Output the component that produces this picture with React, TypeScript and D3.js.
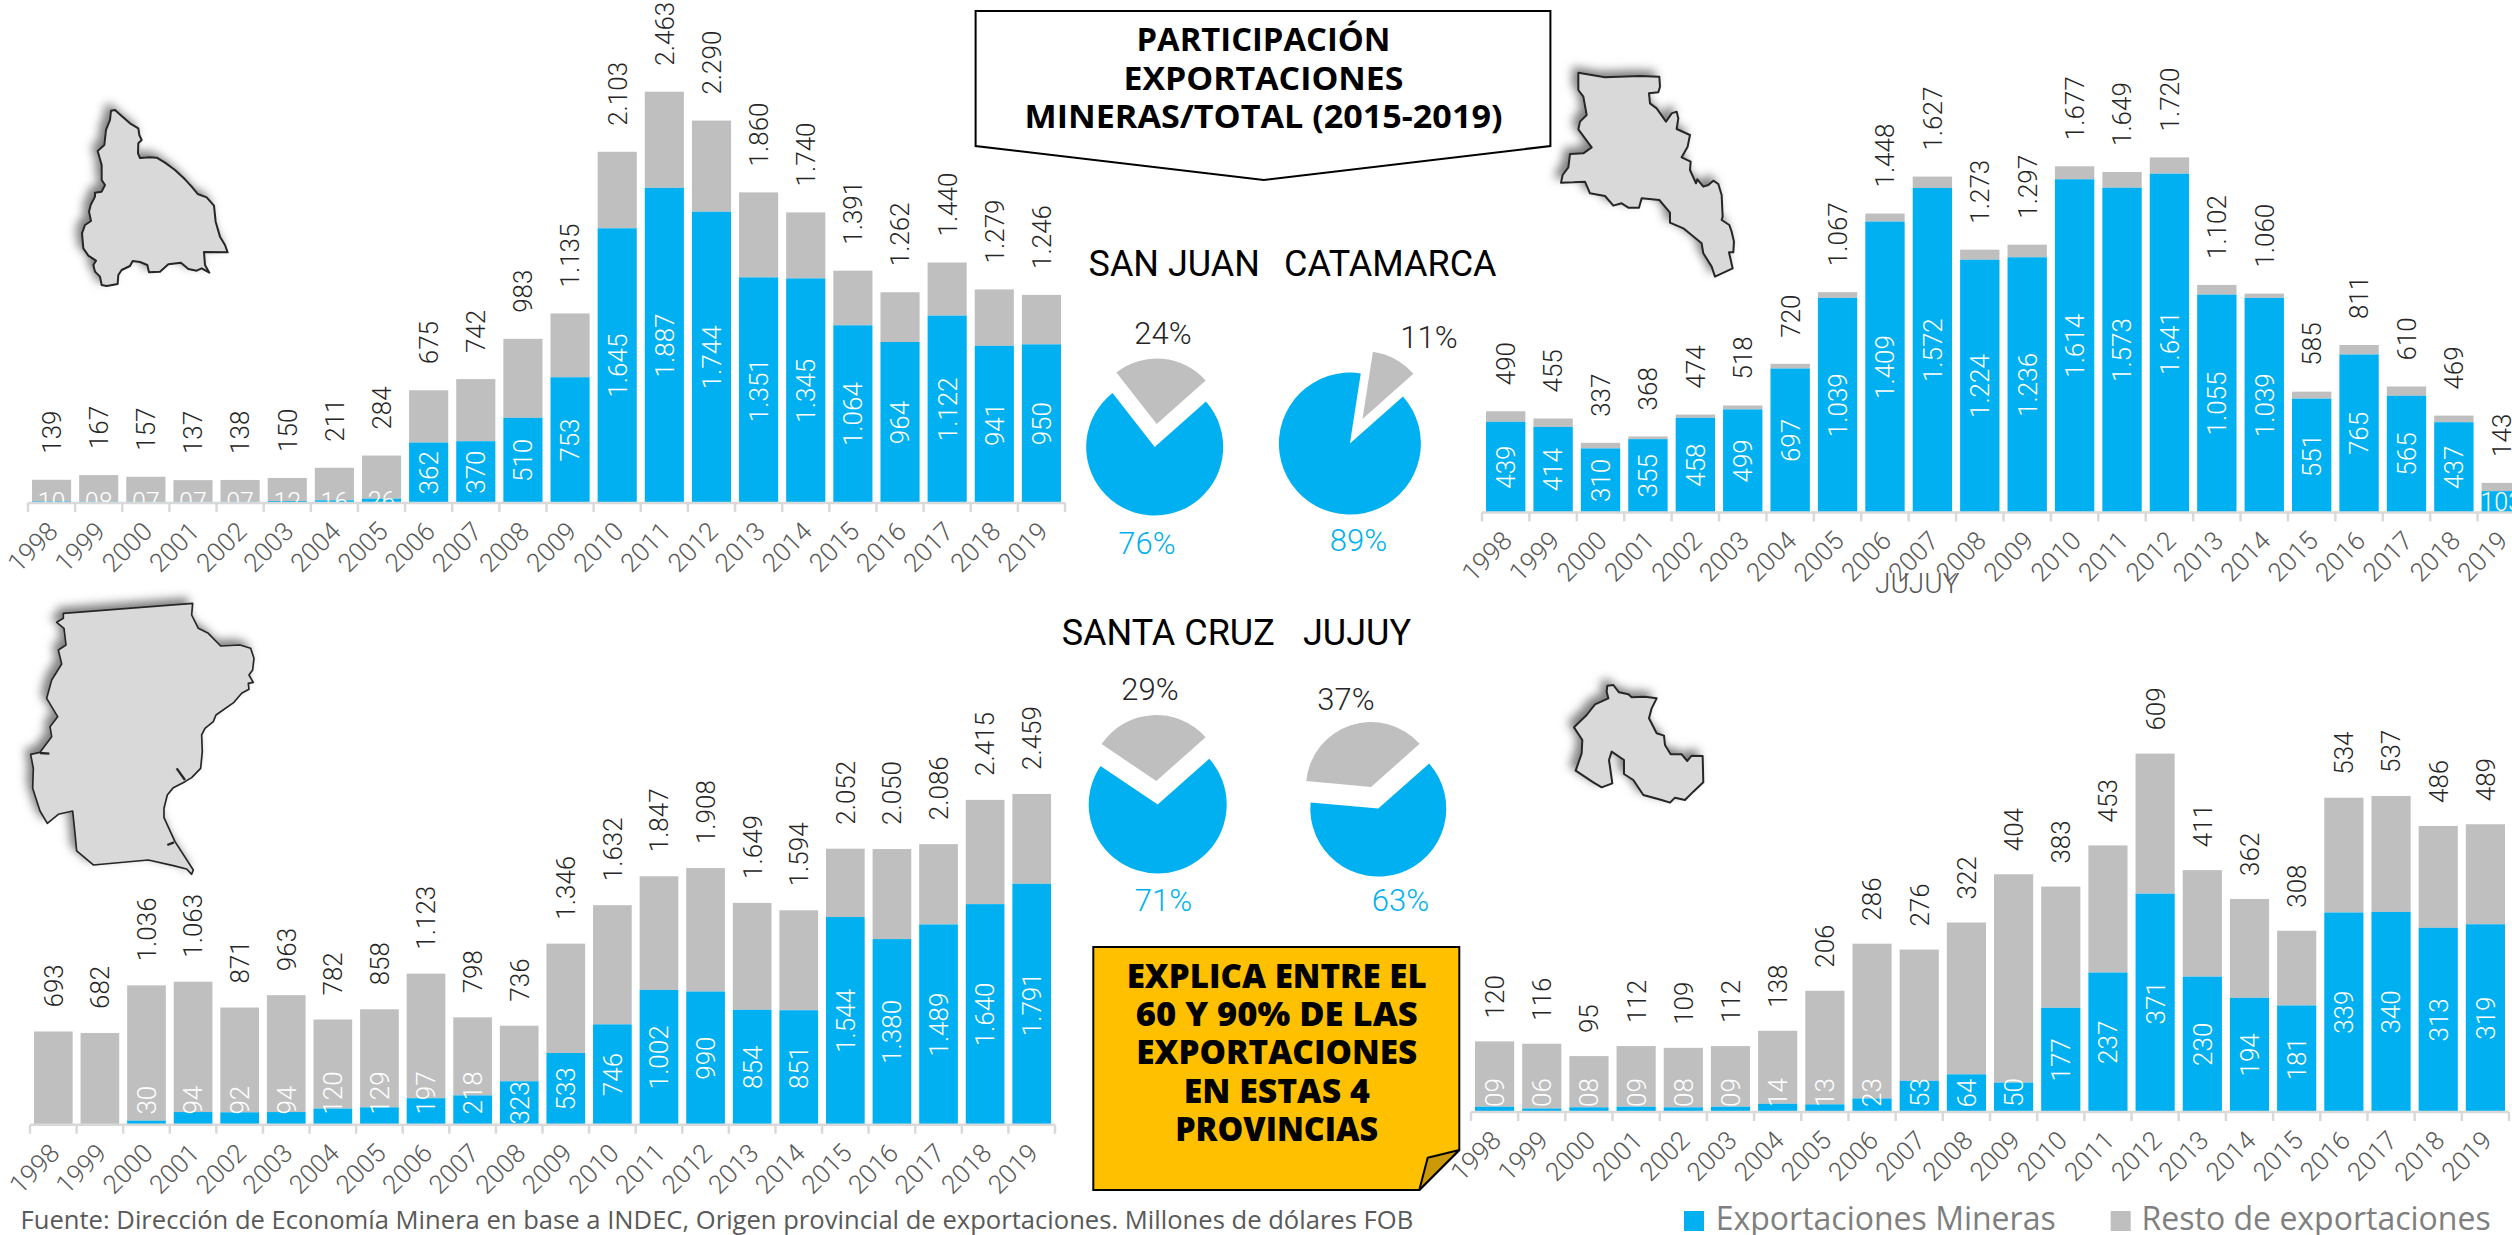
import React from "react";
import * as d3 from "d3";

const years = d3.range(1998, 2020).map(String);

// totales por provincia (millones de dolares FOB)
const sanJuanTotal = [139, 167, 157, 137, 138, 150, 211, 284, 675, 742, 983, 1135, 2103, 2463, 2290, 1860, 1740, 1391, 1262, 1440, 1279, 1246];
const sanJuanMinera = [10, 8, 7, 7, 7, 12, 16, 26, 362, 370, 510, 753, 1645, 1887, 1744, 1351, 1345, 1064, 964, 1122, 941, 950];
const catamarcaTotal = [490, 455, 337, 368, 474, 518, 720, 1067, 1448, 1627, 1273, 1297, 1677, 1649, 1720, 1102, 1060, 585, 811, 610, 469, 143];
const catamarcaMinera = [439, 414, 310, 355, 458, 499, 697, 1039, 1409, 1572, 1224, 1236, 1614, 1573, 1641, 1055, 1039, 551, 765, 565, 437, 103];
const santaCruzTotal = [693, 682, 1036, 1063, 871, 963, 782, 858, 1123, 798, 736, 1346, 1632, 1847, 1908, 1649, 1594, 2052, 2050, 2086, 2415, 2459];
const santaCruzMinera = [0, 0, 30, 94, 92, 94, 120, 129, 197, 218, 323, 533, 746, 1002, 990, 854, 851, 1544, 1380, 1489, 1640, 1791];
const jujuyTotal = [120, 116, 95, 112, 109, 112, 138, 206, 286, 276, 322, 404, 383, 453, 609, 411, 362, 308, 534, 537, 486, 489];
const jujuyMinera = [9, 6, 8, 9, 8, 9, 14, 13, 23, 53, 64, 50, 177, 237, 371, 230, 194, 181, 339, 340, 313, 319];

const BLUE = "#00b0f0";
const GRAY = "#bfbfbf";
const LIGHT = "Roboto, sans-serif";
const SANS = "'Open Sans', sans-serif";

const esFormat = d3.formatLocale({ decimal: ",", thousands: ".", grouping: [3], currency: ["", ""] }).format(",d");
const fmt = (v: number) => (v < 10 ? "0" + v : esFormat(v));

// contornos de las provincias, en coordenadas de recorte x3
const sanJuanShape = [[183,62],[195,60],[215,78],[240,100],[265,115],[268,135],[275,150],[265,160],[264,190],[270,204],[300,202],[320,203],[345,218],[375,240],[405,268],[425,290],[443,312],[470,322],[492,347],[497,395],[510,440],[525,465],[533,487],[462,486],[465,525],[478,548],[455,535],[440,542],[415,537],[393,518],[355,523],[330,545],[297,547],[292,525],[270,516],[248,513],[240,528],[215,540],[205,555],[203,582],[170,588],[155,585],[150,560],[135,545],[130,525],[138,512],[115,497],[100,475],[96,430],[105,405],[123,393],[117,365],[122,345],[135,320],[135,308],[155,305],[165,285],[155,270],[155,225],[143,183],[163,165],[168,120],[180,90]];
const catamarcaShape = [[115,38],[195,52],[300,48],[358,50],[360,80],[355,97],[327,100],[330,130],[350,145],[378,185],[395,160],[410,155],[415,175],[410,207],[450,225],[443,260],[425,292],[452,305],[450,330],[468,370],[472,358],[490,380],[505,375],[520,362],[535,372],[545,405],[548,470],[545,480],[568,495],[575,515],[582,545],[580,577],[567,577],[578,625],[525,650],[515,620],[490,580],[485,550],[430,505],[390,488],[390,458],[358,420],[305,415],[297,443],[265,443],[245,430],[220,437],[195,408],[150,400],[135,365],[100,367],[63,368],[68,345],[85,322],[90,282],[130,280],[155,262],[115,208],[120,185],[140,165],[130,110],[115,90]];
const santaCruzShape = [[160,55],[548,25],[545,60],[565,100],[595,115],[632,153],[690,150],[722,160],[732,190],[728,225],[717,240],[730,262],[715,265],[717,283],[695,295],[672,322],[618,360],[610,380],[585,400],[575,420],[577,470],[572,520],[545,548],[525,560],[490,578],[472,600],[462,640],[462,668],[495,740],[550,825],[545,838],[530,822],[490,812],[415,795],[250,810],[200,768],[195,715],[188,648],[145,658],[112,685],[90,648],[68,580],[70,520],[62,478],[90,472],[125,425],[120,395],[143,365],[110,310],[125,255],[155,207],[145,165],[168,150],[162,100],[140,82],[160,70]];
const jujuyShape = [[172,62],[190,60],[207,82],[235,88],[245,97],[285,95],[320,100],[305,130],[297,160],[320,205],[342,212],[345,240],[362,268],[395,268],[412,288],[425,272],[458,273],[460,352],[430,380],[405,405],[375,398],[360,413],[335,405],[280,390],[250,345],[222,327],[222,285],[185,260],[177,285],[187,355],[155,367],[130,352],[77,317],[95,265],[97,225],[72,187],[110,150],[135,118],[175,100],[170,80]];

const outline = d3.line().curve(d3.curveLinearClosed);

function Province({ shape, x, y, lw = 6, marks = [] }: any) {
  return (
    <g transform={`translate(${x},${y})`} filter="url(#mapShadow)">
      <g transform="scale(0.3333)">
        <path d={outline(shape) as string} fill="#d9d9d9" stroke="#262626" strokeWidth={lw} strokeLinejoin="round" />
        {marks.map((m: any, i: number) => (
          <line key={i} x1={m[0]} y1={m[1]} x2={m[2]} y2={m[3]} stroke="#262626" strokeWidth={lw + 2} />
        ))}
      </g>
    </g>
  );
}

function Bars({ id, total, minera, x0, x1, base, pxPerUnit, gap, flatSmall = false, minStart = 0 }: any) {
  const x = d3.scaleBand().domain(years).range([x0, x1]).paddingInner(0.17).paddingOuter(0.085);
  const y = d3.scaleLinear().domain([0, 1]).range([base, base - pxPerUnit]);
  const step = x.step();

  return (
    <g>
      <defs>
        <clipPath id={id}>
          <rect x={x0} y={0} width={x1 - x0 + 50} height={base - 1} />
        </clipPath>
      </defs>
      {years.map((yr, i) => (
        <g key={yr}>
          <rect x={x(yr)} y={y(total[i])} width={x.bandwidth()} height={y(minera[i]) - y(total[i])} fill={GRAY} />
          <rect x={x(yr)} y={y(minera[i])} width={x.bandwidth()} height={base - y(minera[i])} fill={BLUE} />
        </g>
      ))}
      {/* eje */}
      <line x1={x0} x2={x1} y1={base} y2={base} stroke="#d9d9d9" strokeWidth={2.5} />
      {d3.range(23).map((i) => (
        <line key={i} x1={x0 + i * step} x2={x0 + i * step} y1={base} y2={base + 9} stroke="#d9d9d9" strokeWidth={2.5} />
      ))}
      {years.map((yr) => (
        <text
          key={yr}
          transform={`translate(${(x(yr) as number) + x.bandwidth() / 2 + 8},${base + 30}) rotate(-45)`}
          textAnchor="end"
          fontFamily={LIGHT}
          fontWeight={300}
          fontSize={26}
          fill="#595959"
        >
          {yr}
        </text>
      ))}
      {years.map((yr, i) => (
        <text
          key={yr}
          transform={`translate(${(x(yr) as number) + x.bandwidth() / 2},${y(total[i]) - gap}) rotate(-90)`}
          dy="0.36em"
          fontFamily={LIGHT}
          fontWeight={300}
          fontSize={26}
          fill="#262626"
        >
          {esFormat(total[i])}
        </text>
      ))}
      <g clipPath={`url(#${id})`}>
        {years.map((yr, i) => {
          const v = minera[i];
          if (!v) return null;
          const cx = (x(yr) as number) + x.bandwidth() / 2;
          const h = base - y(v);
          const label = fmt(v);
          if (flatSmall && h < 25) {
            return (
              <text key={yr} x={cx} y={base - h / 2} dy="0.36em" textAnchor="middle" fontFamily={LIGHT} fontWeight={300} fontSize={25} fill="#fff">
                {label}
              </text>
            );
          }
          // las etiquetas chicas se salen de la barra hacia arriba
          const len = label.length * 14.5;
          const mid = h < 35 && minStart ? minStart + len / 2 : h / 2;
          return (
            <text
              key={yr}
              transform={`translate(${cx},${base - mid}) rotate(-90)`}
              dy="0.36em"
              textAnchor="middle"
              fontFamily={LIGHT}
              fontWeight={300}
              fontSize={26}
              fill="#fff"
            >
              {label}
            </text>
          );
        })}
      </g>
    </g>
  );
}

function Pie({ share, blueAt, grayAt, r }: any) {
  const start = (48.4 * Math.PI) / 180;
  const arcs = d3
    .pie<number>()
    .sort(null)
    .startAngle(start)
    .endAngle(start + 2 * Math.PI)([share, 100 - share]);
  const arc = d3.arc<any>().innerRadius(0);
  return (
    <g>
      <path transform={`translate(${blueAt})`} d={arc.outerRadius(r)(arcs[0]) as string} fill={BLUE} />
      <path transform={`translate(${grayAt})`} d={arc.outerRadius(r - 3)(arcs[1]) as string} fill={GRAY} />
    </g>
  );
}

const Pct = ({ x, y, blue, children }: any) => (
  <text x={x} y={y} textAnchor="middle" fontFamily={LIGHT} fontWeight={300} fontSize={31} fill={blue ? BLUE : "#262626"}>
    {children}
  </text>
);

const Heading = ({ x, y, children }: any) => (
  <text x={x} y={y} fontFamily={LIGHT} fontWeight={400} fontSize={36} fill="#000">
    {children}
  </text>
);

const titleLines = ["PARTICIPACIÓN", "EXPORTACIONES", "MINERAS/TOTAL (2015-2019)"];
const titleWidths = [254, 280, 478];
const calloutLines = ["EXPLICA ENTRE EL", "60 Y 90% DE LAS", "EXPORTACIONES", "EN ESTAS 4", "PROVINCIAS"];
const calloutWidths = [300, 282, 281, 186, 203];

export default function App() {
  return (
    <svg width={2512} height={1235} style={{ position: "absolute", left: 0, top: 0, display: "block", background: "#fff" }}>
      <defs>
        <filter id="mapShadow" x="-20%" y="-20%" width="140%" height="140%">
          <feDropShadow dx={-5} dy={-5} stdDeviation={5} floodColor="#000" floodOpacity={0.5} />
        </filter>
      </defs>

      <Bars id="clipSJ" total={sanJuanTotal} minera={sanJuanMinera} x0={28} x1={1065} base={503} pxPerUnit={0.167} gap={26} flatSmall />
      <Bars id="clipCA" total={catamarcaTotal} minera={catamarcaMinera} x0={1482} x1={2525} base={512.4} pxPerUnit={0.2064} gap={26} flatSmall />
      <Bars id="clipSC" total={santaCruzTotal} minera={santaCruzMinera} x0={30} x1={1055} base={1124.7} pxPerUnit={0.1345} gap={24} minStart={10} />
      <Bars id="clipJU" total={jujuyTotal} minera={jujuyMinera} x0={1471} x1={2509} base={1112} pxPerUnit={0.5885} gap={23} minStart={5} />

      <Province shape={sanJuanShape} x={50} y={90} />
      <Province shape={catamarcaShape} x={1540} y={60} />
      <Province
        shape={santaCruzShape}
        x={10}
        y={595}
        lw={5}
        marks={[[500, 520, 525, 555], [472, 750, 492, 742], [90, 474, 118, 476]]}
      />
      <Province shape={jujuyShape} x={1550} y={665} />

      {/* recuadro del titulo */}
      <path d="M975.6,11 H1550.4 V146 L1263.8,180 L975.6,146 Z" fill="#fff" stroke="#000" strokeWidth={2} />
      {titleLines.map((t, i) => (
        <text
          key={t}
          x={1263.5}
          y={51.4 + i * 38.2}
          textAnchor="middle"
          textLength={titleWidths[i]}
          lengthAdjust="spacingAndGlyphs"
          fontFamily={SANS}
          fontWeight={700}
          fontSize={33}
          fill="#000"
        >
          {t}
        </text>
      ))}

      <Heading x={1088.5} y={276}>SAN JUAN</Heading>
      <Heading x={1284} y={276}>CATAMARCA</Heading>
      <Heading x={1061.7} y={645.4}>SANTA CRUZ</Heading>
      <Heading x={1303} y={645.4}>JUJUY</Heading>

      <Pie share={76} blueAt="1154.7,447" grayAt="1156.7,424" r={68.5} />
      <Pie share={89} blueAt="1349.9,443.6" grayAt="1362.5,419" r={71} />
      <Pie share={71} blueAt="1157.7,804.5" grayAt="1156.3,781" r={69} />
      <Pie share={63} blueAt="1378.3,808.6" grayAt="1371,787" r={68} />

      <Pct x={1163} y={344}>24%</Pct>
      <Pct x={1429} y={348}>11%</Pct>
      <Pct x={1147} y={553.6} blue>76%</Pct>
      <Pct x={1358.5} y={551} blue>89%</Pct>
      <Pct x={1150} y={700}>29%</Pct>
      <Pct x={1346} y={710}>37%</Pct>
      <Pct x={1163.5} y={910.6} blue>71%</Pct>
      <Pct x={1400.5} y={910.6} blue>63%</Pct>

      {/* nota amarilla */}
      <path d="M1093.3,947 H1459.3 V1150 L1419.3,1190 H1093.3 Z" fill="#ffc000" stroke="#000" strokeWidth={2} />
      <path d="M1459.3,1150 L1427.7,1157.7 L1419.3,1190 Z" fill="#cc9a06" stroke="#000" strokeWidth={2} strokeLinejoin="round" />
      {calloutLines.map((t, i) => (
        <text
          key={t}
          x={1276.7}
          y={987.6 + i * 38.3}
          textAnchor="middle"
          textLength={calloutWidths[i]}
          lengthAdjust="spacingAndGlyphs"
          fontFamily={SANS}
          fontWeight={800}
          fontSize={33}
          fill="#000"
        >
          {t}
        </text>
      ))}

      <text x={1875} y={593} fontFamily={LIGHT} fontWeight={300} fontSize={28} fill="#595959">JUJUY</text>

      <text x={20.5} y={1229} fontFamily={SANS} fontSize={25.6} fill="#595959">
        Fuente: Dirección de Economía Minera en base a INDEC, Origen provincial de exportaciones. Millones de dólares FOB
      </text>

      {/* leyenda */}
      <rect x={1684} y={1211} width={20} height={20} fill={BLUE} />
      <text x={1715.7} y={1230} fontFamily={SANS} fontSize={32} fill="#7f7f7f">Exportaciones Mineras</text>
      <rect x={2110.7} y={1211} width={20} height={20} fill={GRAY} />
      <text x={2141.6} y={1230} fontFamily={SANS} fontSize={32} fill="#7f7f7f">Resto de exportaciones</text>
    </svg>
  );
}
